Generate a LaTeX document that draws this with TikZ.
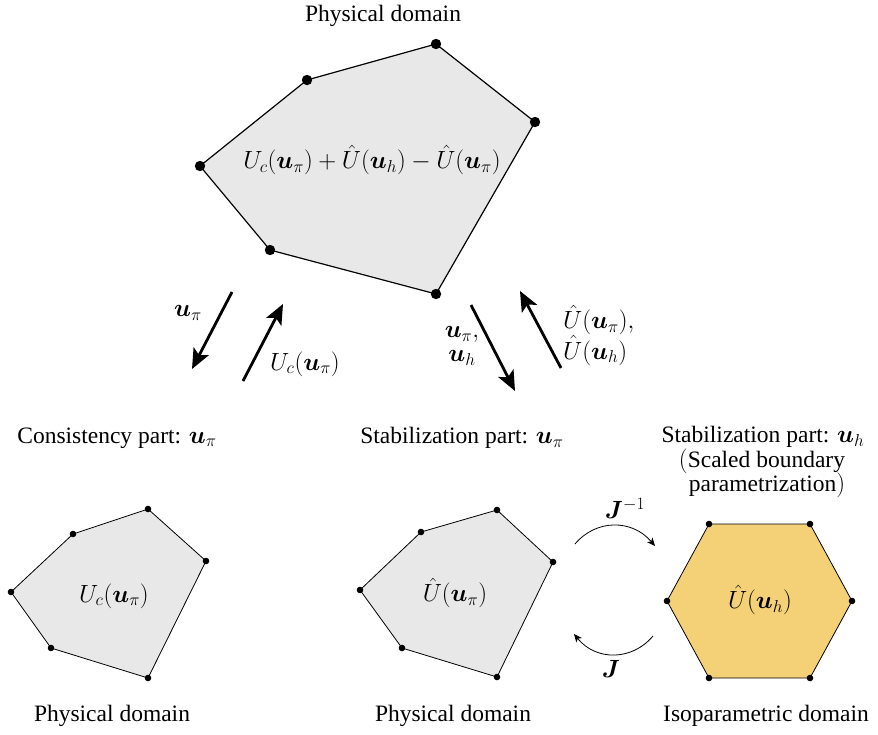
\documentclass[tikz,border=0pt]{standalone}
\usepackage{amsmath,bm}
\usepackage{fontspec}
\setmainfont{Liberation Serif}
\usetikzlibrary{arrows.meta}
\definecolor{polygray}{RGB}{232,232,232}
\definecolor{hexgold}{RGB}{244,209,118}
\begin{document}
\begin{tikzpicture}[x=1pt,y=-1pt,
  lbl/.style={inner sep=0pt, font=\fontsize{23.5}{24}\selectfont},
  polyline/.style={draw=black, line join=round},
  fatarrow/.style={line width=2.8pt, -{Stealth[length=20pt,width=17pt,inset=4.5pt]}},
  thinarrow/.style={line width=0.8pt, -{Stealth[length=8pt,width=7pt,inset=2pt]}},
]
\useasboundingbox (0,0) rectangle (878,734);

% ---- top polygon
\coordinate (t1) at (200,166);
\coordinate (t2) at (307,80);
\coordinate (t3) at (436,44);
\coordinate (t4) at (535,122);
\coordinate (t5) at (436,294);
\coordinate (t6) at (270,250);
\draw[polyline, fill=polygray, line width=1.2pt] (t1)--(t2)--(t3)--(t4)--(t5)--(t6)--cycle;
\foreach \p in {t1,t2,t3,t4,t5,t6} \fill (\p) circle (5.2pt);
\node[lbl] (toptitle) at (383,16) {Physical domain};
\node[lbl] (topexpr) at (372,160) {$U_c(\bm{u}_\pi) + \hat{U}(\bm{u}_h) - \hat{U}(\bm{u}_\pi)$};

% ---- bottom-left polygon
\coordinate (a1) at (11,592);
\coordinate (a2) at (73,534);
\coordinate (a3) at (148,509);
\coordinate (a4) at (206,561);
\coordinate (a5) at (148,678);
\coordinate (a6) at (51,648);
\draw[polyline, fill=polygray, line width=0.8pt] (a1)--(a2)--(a3)--(a4)--(a5)--(a6)--cycle;
\foreach \p in {a1,a2,a3,a4,a5,a6} \fill (\p) circle (3.3pt);
\node[lbl] (cons) at (117,438) {Consistency part: $\bm{u}_\pi$};
\node[lbl] (aexpr) at (114,596) {$U_c(\bm{u}_\pi)$};
\node[lbl] (abot) at (112,716) {Physical domain};

% ---- bottom-middle polygon
\coordinate (b1) at (360,590);
\coordinate (b2) at (421,532);
\coordinate (b3) at (497,510);
\coordinate (b4) at (553,562);
\coordinate (b5) at (497,677);
\coordinate (b6) at (402,648);
\draw[polyline, fill=polygray, line width=0.8pt] (b1)--(b2)--(b3)--(b4)--(b5)--(b6)--cycle;
\foreach \p in {b1,b2,b3,b4,b5,b6} \fill (\p) circle (3.3pt);
\node[lbl] (stabpi) at (462,438) {Stabilization part: $\bm{u}_\pi$};
\node[lbl] (bexpr) at (455,593) {$\hat{U}(\bm{u}_\pi)$};
\node[lbl] (bbot) at (453,716) {Physical domain};

% ---- hexagon
\coordinate (h1) at (709,524);
\coordinate (h2) at (810,524);
\coordinate (h3) at (852,601);
\coordinate (h4) at (810,678);
\coordinate (h5) at (709,678);
\coordinate (h6) at (667,601);
\draw[polyline, fill=hexgold, line width=0.8pt] (h1)--(h2)--(h3)--(h4)--(h5)--(h6)--cycle;
\foreach \p in {h1,h2,h3,h4,h5,h6} \fill (\p) circle (3.3pt);
\node[lbl] (stabh) at (763,437) {Stabilization part: $\bm{u}_h$};
\node[lbl] (scaled) at (762,461) {$($Scaled boundary};
\node[lbl] (param) at (767,485) {parametrization$)$};
\node[lbl] (hexpr) at (760,600) {$\hat{U}(\bm{u}_h)$};
\node[lbl] (hbot) at (766,716) {Isoparametric domain};

% ---- thick arrows
\coordinate (l1s) at (232,292); \coordinate (l1e) at (192,369);
\coordinate (l2s) at (243,381); \coordinate (l2e) at (283,304);
\coordinate (r1s) at (471,305); \coordinate (r1e) at (515,391);
\coordinate (r2s) at (561,368); \coordinate (r2e) at (520,291);
\draw[fatarrow] (l1s) -- (l1e);
\draw[fatarrow] (l2s) -- (l2e);
\draw[fatarrow] (r1s) -- (r1e);
\draw[fatarrow] (r2s) -- (r2e);
\node[lbl] (lupi) at (188,313) {$\bm{u}_\pi$};
\node[lbl] (lUc) at (305,364) {$U_c(\bm{u}_\pi)$};
\node[lbl, align=center] (rupih) at (462,346) {$\bm{u}_\pi,$\\$\bm{u}_h$};
\node[lbl, align=left, anchor=west] (rUU) at (563,335) {$\hat{U}(\bm{u}_\pi),$\\$\hat{U}(\bm{u}_h)$};

% ---- curved arrows
\coordinate (c1s) at (575,544); \coordinate (c1e) at (655,546);
\coordinate (c2s) at (653,636); \coordinate (c2e) at (574,634);
\draw[thinarrow] (c1s) .. controls (596,519) and (632,519) .. (c1e);
\draw[thinarrow] (c2s) .. controls (632,661) and (596,661) .. (c2e);
\node[lbl] (Jinv) at (625,508) {$\bm{J}^{-1}$};
\node[lbl] (Jlab) at (611,669) {$\bm{J}$};
\end{tikzpicture}
\end{document}
